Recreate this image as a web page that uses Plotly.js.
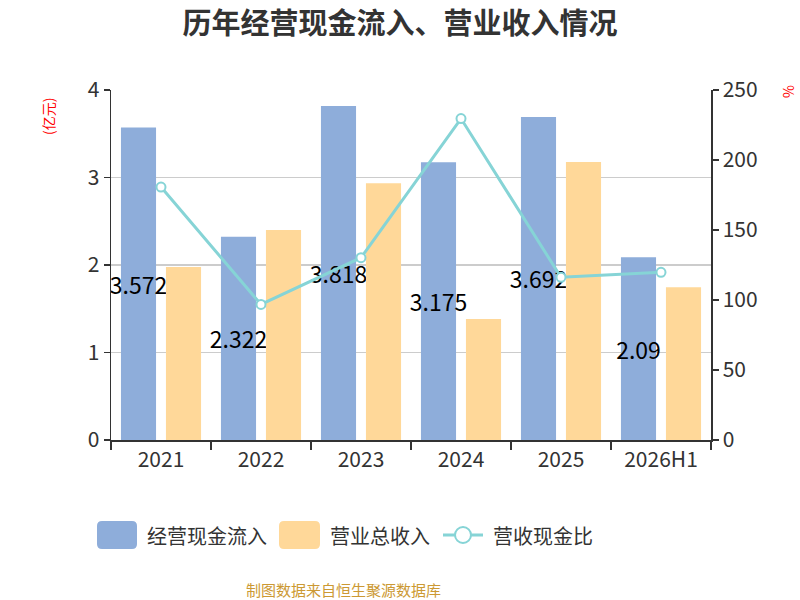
<!DOCTYPE html>
<html>
<head>
<meta charset="utf-8">
<script src="https://cdn.plot.ly/plotly-3.0.1.min.js"></script>
<style>
  html, body { margin: 0; padding: 0; background: #fff; }
  #chart { width: 800px; height: 600px; }
</style>
</head>
<body>
<div id="chart"></div>
<script>
// values
const categories = ['2021', '2022', '2023', '2024', '2025', '2026H1'];
const cashInflow = [3.572, 2.322, 3.818, 3.175, 3.692, 2.09];   // 亿元
const revenue = [1.977, 2.40, 2.933, 1.383, 3.177, 1.745];     // 亿元
const ratio = [180.7, 96.8, 130.2, 229.6, 116.2, 119.8];       // %
const cashLabels = ['3.572', '2.322', '3.818', '3.175', '3.692', '2.09'];

const FONT = '"Noto Sans CJK SC", "Noto Sans", sans-serif';
const BLUE = '#8EADDA';
const ORANGE = '#FFD899';
const TEAL = '#86D4D6';

// plot area in pixels, used to place the hand made legend
const L = 111, R = 711, T = 90, B = 440;
const px = x => (x - L) / (R - L);
const py = y => (B - y) / (B - T);

function roundRect(x0, y0, x1, y1, r) {
  // pixel box -> path in paper units
  const pts = [
    [x0 + r, y0], [x1 - r, y0], [x1, y0 + r], [x1, y1 - r],
    [x1 - r, y1], [x0 + r, y1], [x0, y1 - r], [x0, y0 + r]
  ].map(p => [px(p[0]), py(p[1])]);
  const c = (a, b) => `Q${px(a)},${py(b)} `;
  return `M${pts[0]} L${pts[1]} ${c(x1, y0)}${pts[2]} L${pts[3]} ${c(x1, y1)}${pts[4]} ` +
         `L${pts[5]} ${c(x0, y1)}${pts[6]} L${pts[7]} ${c(x0, y0)}${pts[0]} Z`;
}

const traces = [
  {
    type: 'bar', name: '经营现金流入',
    x: categories, y: cashInflow,
    marker: { color: BLUE },
    text: cashLabels,
    textposition: 'inside',
    insidetextanchor: 'middle',
    constraintext: 'none',
    textangle: 0,
    insidetextfont: { color: '#000', size: 23, family: FONT },
    hoverinfo: 'x+y'
  },
  {
    type: 'bar', name: '营业总收入',
    x: categories, y: revenue,
    marker: { color: ORANGE },
    hoverinfo: 'x+y'
  },
  {
    type: 'scatter', mode: 'lines+markers', name: '营收现金比',
    x: categories, y: ratio, yaxis: 'y2',
    line: { color: TEAL, width: 3 },
    marker: { size: 9, color: '#fff', line: { color: TEAL, width: 2 } },
    cliponaxis: false
  }
];

const legendShapes = [
  { type: 'path', xref: 'paper', yref: 'paper', path: roundRect(97, 521, 137, 549, 5),
    fillcolor: BLUE, line: { width: 0 } },
  { type: 'path', xref: 'paper', yref: 'paper', path: roundRect(279, 521, 320, 549, 5),
    fillcolor: ORANGE, line: { width: 0 } },
  { type: 'line', xref: 'paper', yref: 'paper', x0: px(443), x1: px(483), y0: py(535), y1: py(535),
    line: { color: TEAL, width: 3 } },
  { type: 'circle', xref: 'paper', yref: 'paper', x0: px(455), x1: px(471), y0: py(527), y1: py(543),
    fillcolor: '#fff', line: { color: TEAL, width: 2 } }
];

const legendText = [
  ['经营现金流入', 145], ['营业总收入', 328], ['营收现金比', 491]
].map(([t, x]) => ({
  text: t, xref: 'paper', yref: 'paper', x: px(x), y: py(535),
  xanchor: 'left', yanchor: 'middle', showarrow: false,
  font: { size: 20, color: '#333', family: FONT }
}));

const tickFont = { size: 21, color: '#333' };

const layout = {
  width: 800, height: 600,
  margin: { l: L, r: 800 - R, t: T, b: 600 - B },
  paper_bgcolor: '#fff', plot_bgcolor: '#fff',
  font: { family: FONT, color: '#333' },
  title: {
    text: '<b>历年经营现金流入、营业收入情况</b>',
    font: { size: 29, color: '#333', family: FONT },
    x: 0.5, xanchor: 'center', y: 1 - 24 / 600, yanchor: 'middle'
  },
  showlegend: false,
  barmode: 'group',
  bargap: 0.1,
  bargroupgap: 0.22,
  xaxis: {
    type: 'category',
    tickson: 'boundaries',
    ticks: 'outside', ticklen: 8, tickwidth: 1.5, tickcolor: '#333',
    showline: true, linecolor: '#333', linewidth: 1.5,
    showgrid: false,
    tickfont: tickFont
  },
  yaxis: {
    range: [0, 4], dtick: 1,
    ticks: 'outside', ticklen: 6, tickwidth: 1.5, tickcolor: '#333',
    showline: true, linecolor: '#333', linewidth: 1.5,
    gridcolor: '#ccc', gridwidth: 1.5, zeroline: false,
    tickfont: tickFont
  },
  yaxis2: {
    overlaying: 'y', side: 'right',
    range: [0, 250], dtick: 50,
    ticks: 'outside', ticklen: 6, tickwidth: 1.5, tickcolor: '#333',
    showline: true, linecolor: '#333', linewidth: 1.5,
    showgrid: false, zeroline: false,
    tickfont: tickFont
  },
  shapes: legendShapes,
  annotations: [
    { text: '(亿元)', xref: 'paper', yref: 'paper', x: px(48), y: py(117),
      textangle: -90, showarrow: false, xanchor: 'center', yanchor: 'middle',
      font: { size: 14, color: '#f00', family: FONT } },
    { text: '%', xref: 'paper', yref: 'paper', x: px(788), y: py(92),
      textangle: -90, showarrow: false, xanchor: 'center', yanchor: 'middle',
      font: { size: 14, color: '#f00', family: FONT } },
    { text: '制图数据来自恒生聚源数据库', xref: 'paper', yref: 'paper', x: px(343), y: py(589),
      showarrow: false, xanchor: 'center', yanchor: 'middle',
      font: { size: 15, color: '#CC9933', family: FONT } },
    ...legendText
  ]
};

Plotly.newPlot('chart', traces, layout, { displayModeBar: false, staticPlot: true });
</script>
</body>
</html>
